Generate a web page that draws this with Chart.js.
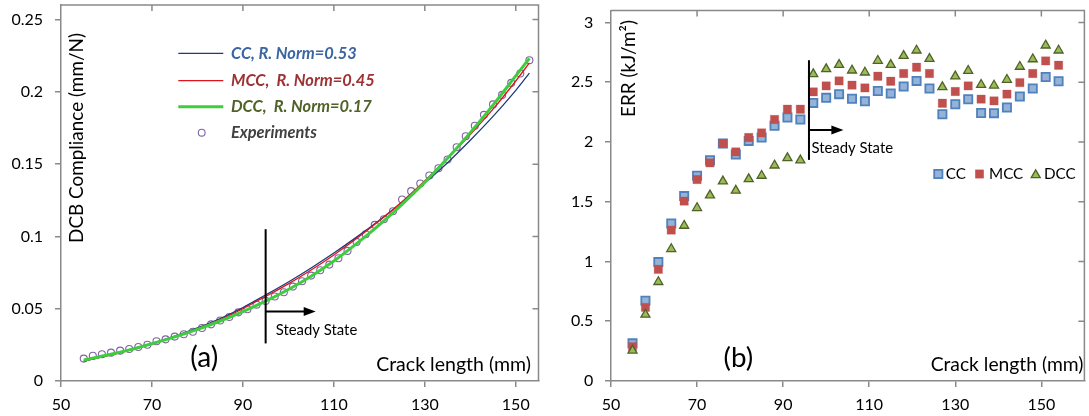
<!DOCTYPE html>
<html><head><meta charset="utf-8">
<script src="https://cdn.jsdelivr.net/npm/chart.js@4.4.1/dist/chart.umd.min.js"></script>
<style>
html,body{margin:0;padding:0;background:#fff;overflow:hidden;width:1089px;height:416px;}
#ca{position:absolute;left:0;top:0;}
#cb{position:absolute;left:545px;top:0;}
</style></head><body>
<canvas id="ca" width="545" height="416"></canvas>
<canvas id="cb" width="547" height="416"></canvas>
<script>
// ---------- DATA: panel (a) DCB compliance ----------
const expX = [55,57,59,61,63,65,67,69,71,73,75,77,79,81,83,85,87,89,91,93,95,97,99,101,103,105,107,109,111,113,115,117,119,121,123,125,127,129,131,133,135,137,139,141,143,145,147,149,151,153];
const expY = [0.0155,0.0175,0.0185,0.0196,0.0210,0.0221,0.0235,0.0251,0.0275,0.0288,0.0307,0.0323,0.0341,0.0367,0.0392,0.0418,0.0443,0.0475,0.0496,0.0528,0.0554,0.0584,0.0614,0.0653,0.0690,0.0729,0.0766,0.0805,0.0849,0.0900,0.0962,0.1015,0.1080,0.1119,0.1174,0.1255,0.1313,0.1366,0.1421,0.1472,0.1532,0.1617,0.1693,0.1765,0.1841,0.1913,0.1979,0.2062,0.2127,0.2219];
const fitX = [55,60,65,70,75,80,85,90,95,100,105,110,115,120,125,130,135,140,145,150,153];
const ccFit = [0.0138,0.0174,0.0214,0.0259,0.0310,0.0367,0.0432,0.0508,0.0595,0.0685,0.0782,0.0885,0.0995,0.1112,0.1237,0.1370,0.1510,0.1665,0.1830,0.2010,0.2130];
const mccFit = [0.0138,0.0173,0.0212,0.0257,0.0307,0.0362,0.0425,0.0500,0.0585,0.0672,0.0768,0.0872,0.0985,0.1108,0.1240,0.1385,0.1540,0.1705,0.1880,0.2075,0.2200];
const dccFit = [0.0145,0.0178,0.0215,0.0258,0.0305,0.0357,0.0415,0.0480,0.0552,0.0633,0.0725,0.0830,0.0950,0.1080,0.1222,0.1375,0.1540,0.1718,0.1908,0.2110,0.2232];
const xTicksA = [50,70,90,110,130,150];
const yTicksA = [0,0.05,0.1,0.15,0.2,0.25];
const legendA = ['CC, R. Norm=0.53','MCC,  R. Norm=0.45','DCC,  R. Norm=0.17','Experiments'];

// ---------- DATA: panel (b) ERR ----------
const errX = [55,58,61,64,67,70,73,76,79,82,85,88,91,94,97,100,103,106,109,112,115,118,121,124,127,130,133,136,139,142,145,148,151,154];
const errCC = [0.315,0.671,0.995,1.318,1.547,1.717,1.848,1.987,1.895,2.009,2.037,2.135,2.205,2.188,2.327,2.369,2.400,2.361,2.341,2.427,2.405,2.464,2.511,2.447,2.232,2.316,2.358,2.243,2.241,2.288,2.380,2.447,2.544,2.508];
const errMCC = [0.287,0.616,0.934,1.263,1.505,1.686,1.825,1.987,1.917,2.037,2.076,2.188,2.274,2.274,2.419,2.469,2.511,2.475,2.452,2.550,2.508,2.573,2.625,2.573,2.324,2.422,2.469,2.358,2.344,2.400,2.497,2.573,2.678,2.642];
const errDCC = [0.255,0.556,0.829,1.105,1.300,1.448,1.554,1.671,1.593,1.690,1.718,1.804,1.865,1.846,2.568,2.610,2.646,2.599,2.582,2.680,2.646,2.721,2.766,2.696,2.459,2.549,2.596,2.479,2.473,2.521,2.630,2.693,2.808,2.766];
const xTicksB = [50,70,90,110,130,150];
const yTicksB = [0,0.5,1,1.5,2,2.5,3];
const legendB = ['CC','MCC','DCC'];

// steady-state markers (data coordinates)
const steadyA = {x:95, yTop:0.105, yBottom:0.026, arrowY:0.048, arrowTip:106, textY:0.035};
const steadyB = {x:96, yTop:2.684, yBottom:1.85, arrowY:2.1, arrowTip:104, textY:1.95};

// ---------- STYLE ----------
const FAMILY = 'Lato, "Open Sans", sans-serif';
const AXIS = '#898989';
Chart.defaults.font.family = FAMILY;
Chart.defaults.color = '#000';

function fitSize(ctx, text, style, width){
  ctx.font = style + ' 100px ' + FAMILY;
  return 100 * width / ctx.measureText(text).width;
}
function setFont(ctx, text, style, width){
  const s = fitSize(ctx, text, style, width);
  ctx.font = style + ' ' + s.toFixed(2) + 'px ' + FAMILY;
  return s;
}

const framePlugin = {
  id: 'frame',
  afterDatasetsDraw(chart){
    const {ctx, chartArea: ca, scales} = chart;
    ctx.save();
    ctx.strokeStyle = AXIS; ctx.lineWidth = 1.5;
    ctx.beginPath();
    ctx.moveTo(ca.left, ca.top); ctx.lineTo(ca.right, ca.top); ctx.lineTo(ca.right, ca.bottom);
    ctx.stroke();
    ctx.beginPath();
    scales.x.ticks.forEach(t => {
      const px = scales.x.getPixelForValue(t.value);
      if (px > ca.left + 1 && px < ca.right - 1) { ctx.moveTo(px, ca.top); ctx.lineTo(px, ca.top + 6); }
    });
    scales.y.ticks.forEach(t => {
      const py = scales.y.getPixelForValue(t.value);
      if (py > ca.top + 1 && py < ca.bottom - 1) { ctx.moveTo(ca.right, py); ctx.lineTo(ca.right - 6, py); }
    });
    ctx.stroke();
    ctx.restore();
  }
};

function drawSteady(ctx, x, y, s, textLeftOffset){
  const px = x.getPixelForValue(s.x);
  const y0 = y.getPixelForValue(s.yTop), y1 = y.getPixelForValue(s.yBottom);
  const ay = y.getPixelForValue(s.arrowY), tip = x.getPixelForValue(s.arrowTip);
  ctx.strokeStyle = '#000'; ctx.fillStyle = '#000'; ctx.lineWidth = 2;
  ctx.beginPath(); ctx.moveTo(px, y0); ctx.lineTo(px, y1); ctx.stroke();
  ctx.beginPath(); ctx.moveTo(px, ay); ctx.lineTo(tip - 10, ay); ctx.stroke();
  ctx.beginPath(); ctx.moveTo(tip, ay); ctx.lineTo(tip - 12, ay - 4.5); ctx.lineTo(tip - 12, ay + 4.5); ctx.closePath(); ctx.fill();
  setFont(ctx, 'Steady State', '', 81.7);
  ctx.textAlign = 'left'; ctx.textBaseline = 'middle';
  ctx.fillText('Steady State', px + textLeftOffset, y.getPixelForValue(s.textY));
}

const annotA = {
  id: 'annotA',
  afterDraw(chart){
    const {ctx, scales: {x, y}} = chart;
    ctx.save();
    ctx.fillStyle = '#000';
    // y title inside plot
    ctx.save();
    ctx.translate(77.2, 138); ctx.rotate(-Math.PI / 2);
    setFont(ctx, 'DCB Compliance (mm/N)', '', 210);
    ctx.textAlign = 'center'; ctx.textBaseline = 'middle';
    ctx.fillText('DCB Compliance (mm/N)', 0, 0);
    ctx.restore();
    // x title
    setFont(ctx, 'Crack length (mm)', '', 155);
    ctx.textAlign = 'right'; ctx.textBaseline = 'middle';
    ctx.fillText('Crack length (mm)', 531, 365);
    // panel letter
    setFont(ctx, '(a)', '', 28);
    ctx.textAlign = 'center';
    ctx.fillText('(a)', 204.2, 358);
    // steady state
    drawSteady(ctx, x, y, steadyA, 10);
    // legend
    const cols = ['#1f3a7a', '#e0141c', '#3fcc3f'];
    const widths = [1.3, 1.3, 3];
    const tcols = ['#3a65a0', '#9c3233', '#4f6228', '#404040'];
    const rows = [53.3, 80.7, 106.7, 132.7];
    for (let i = 0; i < 3; i++) {
      ctx.strokeStyle = cols[i]; ctx.lineWidth = widths[i];
      ctx.beginPath(); ctx.moveTo(178.3, rows[i]); ctx.lineTo(223.3, rows[i]); ctx.stroke();
    }
    ctx.strokeStyle = '#8064a2'; ctx.lineWidth = 1.1;
    ctx.beginPath(); ctx.arc(201.7, rows[3], 3.4, 0, Math.PI * 2); ctx.stroke();
    const fs = fitSize(ctx, legendA[0], 'italic bold', 125.7);
    ctx.font = 'italic bold ' + fs.toFixed(2) + 'px ' + FAMILY;
    ctx.textAlign = 'left'; ctx.textBaseline = 'middle';
    legendA.forEach((t, i) => { ctx.fillStyle = tcols[i]; ctx.fillText(t, 231, rows[i]); });
    ctx.restore();
  }
};

function square(ctx, cx, cy, half, fill, stroke, lw){
  ctx.fillStyle = fill; ctx.fillRect(cx - half, cy - half, half * 2, half * 2);
  if (lw > 0) { ctx.strokeStyle = stroke; ctx.lineWidth = lw; ctx.strokeRect(cx - half, cy - half, half * 2, half * 2); }
}
function triangle(ctx, cx, cy, r, fill, stroke, lw){
  ctx.beginPath();
  for (let k = 0; k < 3; k++) {
    const a = k * 2 * Math.PI / 3;
    const px = cx + Math.sin(a) * r, py = cy - Math.cos(a) * r;
    if (k === 0) ctx.moveTo(px, py); else ctx.lineTo(px, py);
  }
  ctx.closePath(); ctx.fillStyle = fill; ctx.fill();
  ctx.strokeStyle = stroke; ctx.lineWidth = lw; ctx.stroke();
}

const annotB = {
  id: 'annotB',
  afterDraw(chart){
    const {ctx, scales: {x, y}} = chart;
    ctx.save();
    ctx.fillStyle = '#000';
    ctx.save();
    ctx.translate(84.1, 68.5); ctx.rotate(-Math.PI / 2);
    setFont(ctx, 'ERR (kJ/m²)', '', 97);
    ctx.textAlign = 'center'; ctx.textBaseline = 'middle';
    ctx.fillText('ERR (kJ/m²)', 0, 0);
    ctx.restore();
    setFont(ctx, 'Crack length (mm)', '', 153);
    ctx.textAlign = 'right'; ctx.textBaseline = 'middle';
    ctx.fillText('Crack length (mm)', 538.5, 365);
    setFont(ctx, '(b)', '', 29.6);
    ctx.textAlign = 'center';
    ctx.fillText('(b)', 193.4, 358);
    drawSteady(ctx, x, y, steadyB, 2.5);
    // legend
    const ly = 174;
    square(ctx, 393.3, ly, 4.1, '#95b3d7', '#4f81bd', 1.8);
    square(ctx, 434.5, ly, 4.2, '#c0504d', 'rgba(192,80,77,0.5)', 0.6);
    triangle(ctx, 490.7, ly + 1, 5.2, '#9bbb59', '#4f6228', 1.3);
    const fs = fitSize(ctx, 'MCC', '', 34.3);
    ctx.font = fs.toFixed(2) + 'px ' + FAMILY;
    ctx.fillStyle = '#000'; ctx.textAlign = 'left'; ctx.textBaseline = 'middle';
    ctx.fillText(legendB[0], 400.7, ly);
    ctx.fillText(legendB[1], 444, ly);
    ctx.fillText(legendB[2], 499, ly);
    ctx.restore();
  }
};

function axisCommon(isY, ticksArr, fmt, pad, fitSize){
  return {
    type: 'linear',
    grid: {display: true, drawOnChartArea: false, drawTicks: true, tickLength: 6, color: AXIS, lineWidth: 1.5},
    border: {display: true, color: AXIS, width: 1.5},
    ticks: {autoSkip: false, padding: pad, font: {size: 16, family: FAMILY}, color: '#000', callback: fmt},
    afterBuildTicks: s => { s.ticks = ticksArr.map(v => ({value: v})); },
    afterFit: s => {
      if (isY) s.width = fitSize; else s.height = fitSize;
      s.paddingTop = 0; s.paddingBottom = 0; s.paddingLeft = 0; s.paddingRight = 0;
    }
  };
}

// ---------- CHART (a) ----------
const xyA = (xs, ys) => xs.map((v, i) => ({x: v, y: ys[i]}));
new Chart(document.getElementById('ca'), {
  type: 'line',
  data: {
    datasets: [
      {label: 'DCC', data: xyA(fitX, dccFit), borderColor: '#3fcc3f', borderWidth: 3, pointRadius: 0, cubicInterpolationMode: 'monotone', fill: false, order: 0},
      {label: 'MCC', data: xyA(fitX, mccFit), borderColor: '#e0141c', borderWidth: 1.3, pointRadius: 0, cubicInterpolationMode: 'monotone', fill: false, order: 1},
      {label: 'CC', data: xyA(fitX, ccFit), borderColor: '#1f3a7a', borderWidth: 1.3, pointRadius: 0, cubicInterpolationMode: 'monotone', fill: false, order: 2},
      {label: 'Experiments', data: xyA(expX, expY), showLine: false, pointStyle: 'circle', pointRadius: 3.5, pointBorderWidth: 1.1, pointBorderColor: '#8064a2', pointBackgroundColor: 'rgba(255,255,255,0)', borderColor: '#8064a2', order: 3}
    ]
  },
  options: {
    responsive: false, animation: false, events: [],
    layout: {padding: {top: 5, right: 6.5, left: 0, bottom: 0}},
    plugins: {legend: {display: false}, tooltip: {enabled: false}},
    scales: {
      x: Object.assign(axisCommon(false, xTicksA, v => String(v), 8, 35), {min: 50, max: 155}),
      y: Object.assign(axisCommon(true, yTicksA, v => String(+v.toFixed(2)), 12, 61), {min: 0, max: 0.26})
    }
  },
  plugins: [framePlugin, annotA]
});

// ---------- CHART (b) ----------
new Chart(document.getElementById('cb'), {
  type: 'scatter',
  data: {
    datasets: [
      {label: legendB[2], data: xyA(errX, errDCC), pointStyle: 'triangle', pointRadius: 5.2, pointBackgroundColor: '#9bbb59', pointBorderColor: '#4f6228', pointBorderWidth: 1.3, order: 0},
      {label: legendB[1], data: xyA(errX, errMCC), pointStyle: 'rect', pointRadius: 5.9, pointBackgroundColor: '#c0504d', pointBorderColor: 'rgba(192,80,77,0.5)', pointBorderWidth: 0.6, order: 1},
      {label: legendB[0], data: xyA(errX, errCC), pointStyle: 'rect', pointRadius: 5.8, pointBackgroundColor: '#95b3d7', pointBorderColor: '#4f81bd', pointBorderWidth: 1.8, order: 2}
    ]
  },
  options: {
    responsive: false, animation: false, events: [],
    layout: {padding: {top: 10.5, right: 3, left: 0, bottom: 0}},
    plugins: {legend: {display: false}, tooltip: {enabled: false}},
    scales: {
      x: Object.assign(axisCommon(false, xTicksB, v => String(v), 8, 35), {min: 50, max: 160}),
      y: Object.assign(axisCommon(true, yTicksB, v => String(v), 11.7, 66), {min: 0, max: 3.1})
    }
  },
  plugins: [framePlugin, annotB]
});
</script>
</body></html>
